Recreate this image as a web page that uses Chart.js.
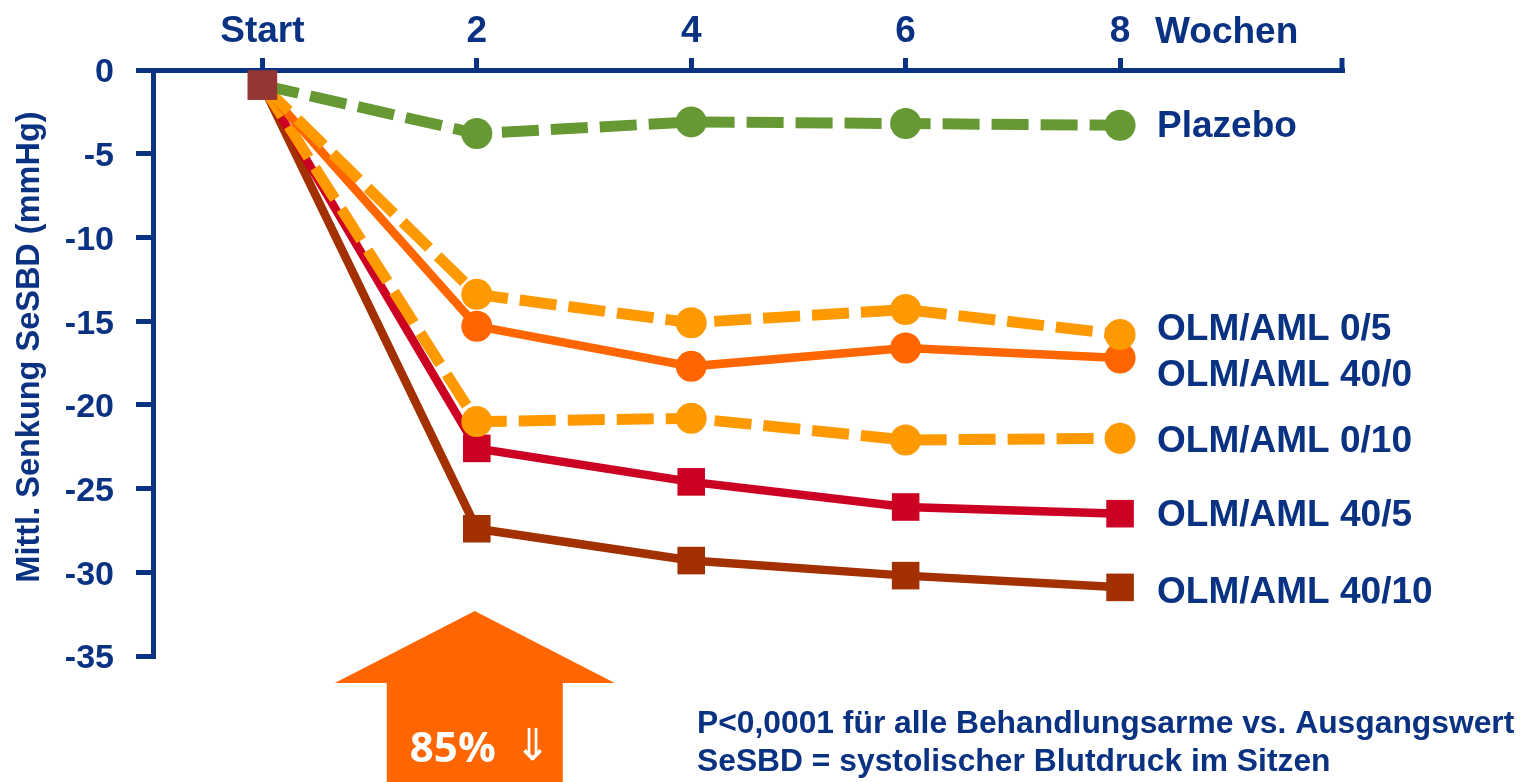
<!DOCTYPE html>
<html>
<head>
<meta charset="utf-8">
<script src="https://cdn.jsdelivr.net/npm/chart.js@4"></script>
<style>
html, body { margin: 0; padding: 0; background: #fff; }
canvas { display: block; }
</style>
</head>
<body>
<canvas id="c" width="1522" height="782"></canvas>
<script>
const weeks = [0, 2, 4, 6, 8]
const weekLabels = ['Start', '2', '4', '6', '8']
const seriesNames = ['Plazebo', 'OLM/AML 0/5', 'OLM/AML 40/0', 'OLM/AML 0/10', 'OLM/AML 40/5', 'OLM/AML 40/10']
const plazebo = [-0.9, -3.8, -3.1, -3.2, -3.3]
const olm0aml5 = [-0.9, -13.4, -15.1, -14.3, -15.8]
const olm40aml0 = [-0.9, -15.3, -17.7, -16.6, -17.2]
const olm0aml10 = [-0.9, -21.0, -20.8, -22.1, -22.0]
const olm40aml5 = [-0.9, -22.6, -24.6, -26.1, -26.5]
const olm40aml10 = [-0.9, -27.4, -29.3, -30.2, -30.9]
const startValue = -0.9
const yTicks = [0, -5, -10, -15, -20, -25, -30, -35]
const yTitle = 'Mittl. Senkung SeSBD (mmHg)'
const reduction = '85%'
const notes = ['P<0,0001 für alle Behandlungsarme vs. Ausgangswert', 'SeSBD = systolischer Blutdruck im Sitzen']

const allSeries = [plazebo, olm0aml5, olm40aml0, olm0aml10, olm40aml5, olm40aml10]
const navy = '#0a3282'
const font = '"Liberation Sans", Arial, sans-serif'
const colors = ['#669933', '#ff9900', '#ff6600', '#ff9900', '#cc0022', '#a33000']
const dashed = [true, true, false, true, false, false]
const shapes = ['circle', 'circle', 'circle', 'circle', 'rect', 'rect']
// label offsets in px so the names do not collide
const labelNudge = [0, -7, 16, 1, 0, 3]

const datasets = allSeries.map((vals, i) => ({
  label: seriesNames[i],
  data: vals.map((v, j) => ({x: weeks[j], y: v})),
  borderColor: colors[i],
  backgroundColor: colors[i],
  borderWidth: dashed[i] ? 11 : 8.5,
  borderDash: dashed[i] ? [37, 12] : [],
  pointStyle: shapes[i],
  pointRadius: vals.map((v, j) => j === 0 ? 0 : (shapes[i] === 'rect' ? 19.5 : 15.5)),
  pointBorderWidth: 0,
  tension: 0,
  clip: false,
  order: i + 1
}))
datasets.push({
  label: 'Start',
  data: [{x: weeks[0], y: startValue}],
  backgroundColor: '#943634',
  borderColor: '#943634',
  pointStyle: 'rect',
  pointRadius: 21,
  pointBorderWidth: 0,
  showLine: false,
  clip: false,
  order: 0
})

const extras = {
  id: 'extras',
  afterDraw(chart) {
    const {ctx, chartArea, scales: {x, y}} = chart
    ctx.save()
    ctx.fillStyle = navy
    // end cap of the week axis
    ctx.fillRect(chartArea.right - 2.5, chartArea.top - 12, 5, 14.5)
    ctx.font = 'bold 37px ' + font
    ctx.textAlign = 'left'
    ctx.textBaseline = 'alphabetic'
    ctx.fillText('Wochen', x.getPixelForValue(8) + 35, 43)
    // series names
    ctx.textBaseline = 'middle'
    seriesNames.forEach((name, i) => {
      const vals = allSeries[i]
      ctx.fillText(name, x.getPixelForValue(8) + 37, y.getPixelForValue(vals[vals.length - 1]) + labelNudge[i] + 2)
    })
    // y axis title
    ctx.save()
    ctx.translate(39, 347)
    ctx.rotate(-Math.PI / 2)
    ctx.textAlign = 'center'
    ctx.textBaseline = 'alphabetic'
    ctx.font = 'bold 32.5px ' + font
    ctx.fillText(yTitle, 0, 0)
    ctx.restore()
    // notes
    ctx.font = 'bold 31.8px ' + font
    ctx.textBaseline = 'alphabetic'
    ctx.fillText(notes[0], 697, 733)
    ctx.fillText(notes[1], 697, 771)
    // big arrow under week 2
    const ax = x.getPixelForValue(2) - 2
    ctx.fillStyle = '#ff6600'
    ctx.beginPath()
    ctx.moveTo(ax, 611)
    ctx.lineTo(ax + 140, 683)
    ctx.lineTo(ax + 88, 683)
    ctx.lineTo(ax + 88, 782)
    ctx.lineTo(ax - 88, 782)
    ctx.lineTo(ax - 88, 683)
    ctx.lineTo(ax - 140, 683)
    ctx.closePath()
    ctx.fill()
    ctx.fillStyle = '#fff'
    ctx.textAlign = 'center'
    ctx.font = 'bold 42px "Open Sans", "Noto Sans", sans-serif'
    ctx.fillText(reduction, ax - 22, 762)
    ctx.font = '44px "DejaVu Sans", sans-serif'
    ctx.fillText('\u21d3', ax + 58, 760)
    ctx.restore()
  }
}

new Chart(document.getElementById('c'), {
  type: 'line',
  data: {datasets: datasets},
  options: {
    responsive: false,
    animation: false,
    layout: {padding: {left: 0, top: 0, right: 180, bottom: 126}},
    plugins: {legend: {display: false}, tooltip: {enabled: false}},
    scales: {
      x: {
        type: 'linear',
        position: 'top',
        min: -1.02,
        max: 10.07,
        afterBuildTicks: s => { s.ticks = weeks.map(v => ({value: v})) },
        afterFit: s => { s.height = 70 },
        ticks: {
          callback: v => weekLabels[weeks.indexOf(v)],
          color: navy,
          font: {family: font, size: 37, weight: 'bold'},
          padding: 4,
          maxRotation: 0,
          autoSkip: false
        },
        grid: {drawOnChartArea: false, drawTicks: true, tickLength: 12, color: navy, lineWidth: 5},
        border: {display: true, color: navy, width: 5}
      },
      y: {
        type: 'linear',
        min: -35,
        max: 0,
        afterBuildTicks: s => { s.ticks = yTicks.map(v => ({value: v})) },
        afterFit: s => { s.width = 153 },
        ticks: {
          callback: v => String(v),
          color: navy,
          font: {family: font, size: 34, weight: 'bold'},
          padding: 22,
          labelOffset: 3
        },
        grid: {drawOnChartArea: false, drawTicks: true, tickLength: 17, color: navy, lineWidth: 5},
        border: {display: true, color: navy, width: 5}
      }
    }
  },
  plugins: [extras]
})
</script>
</body>
</html>
